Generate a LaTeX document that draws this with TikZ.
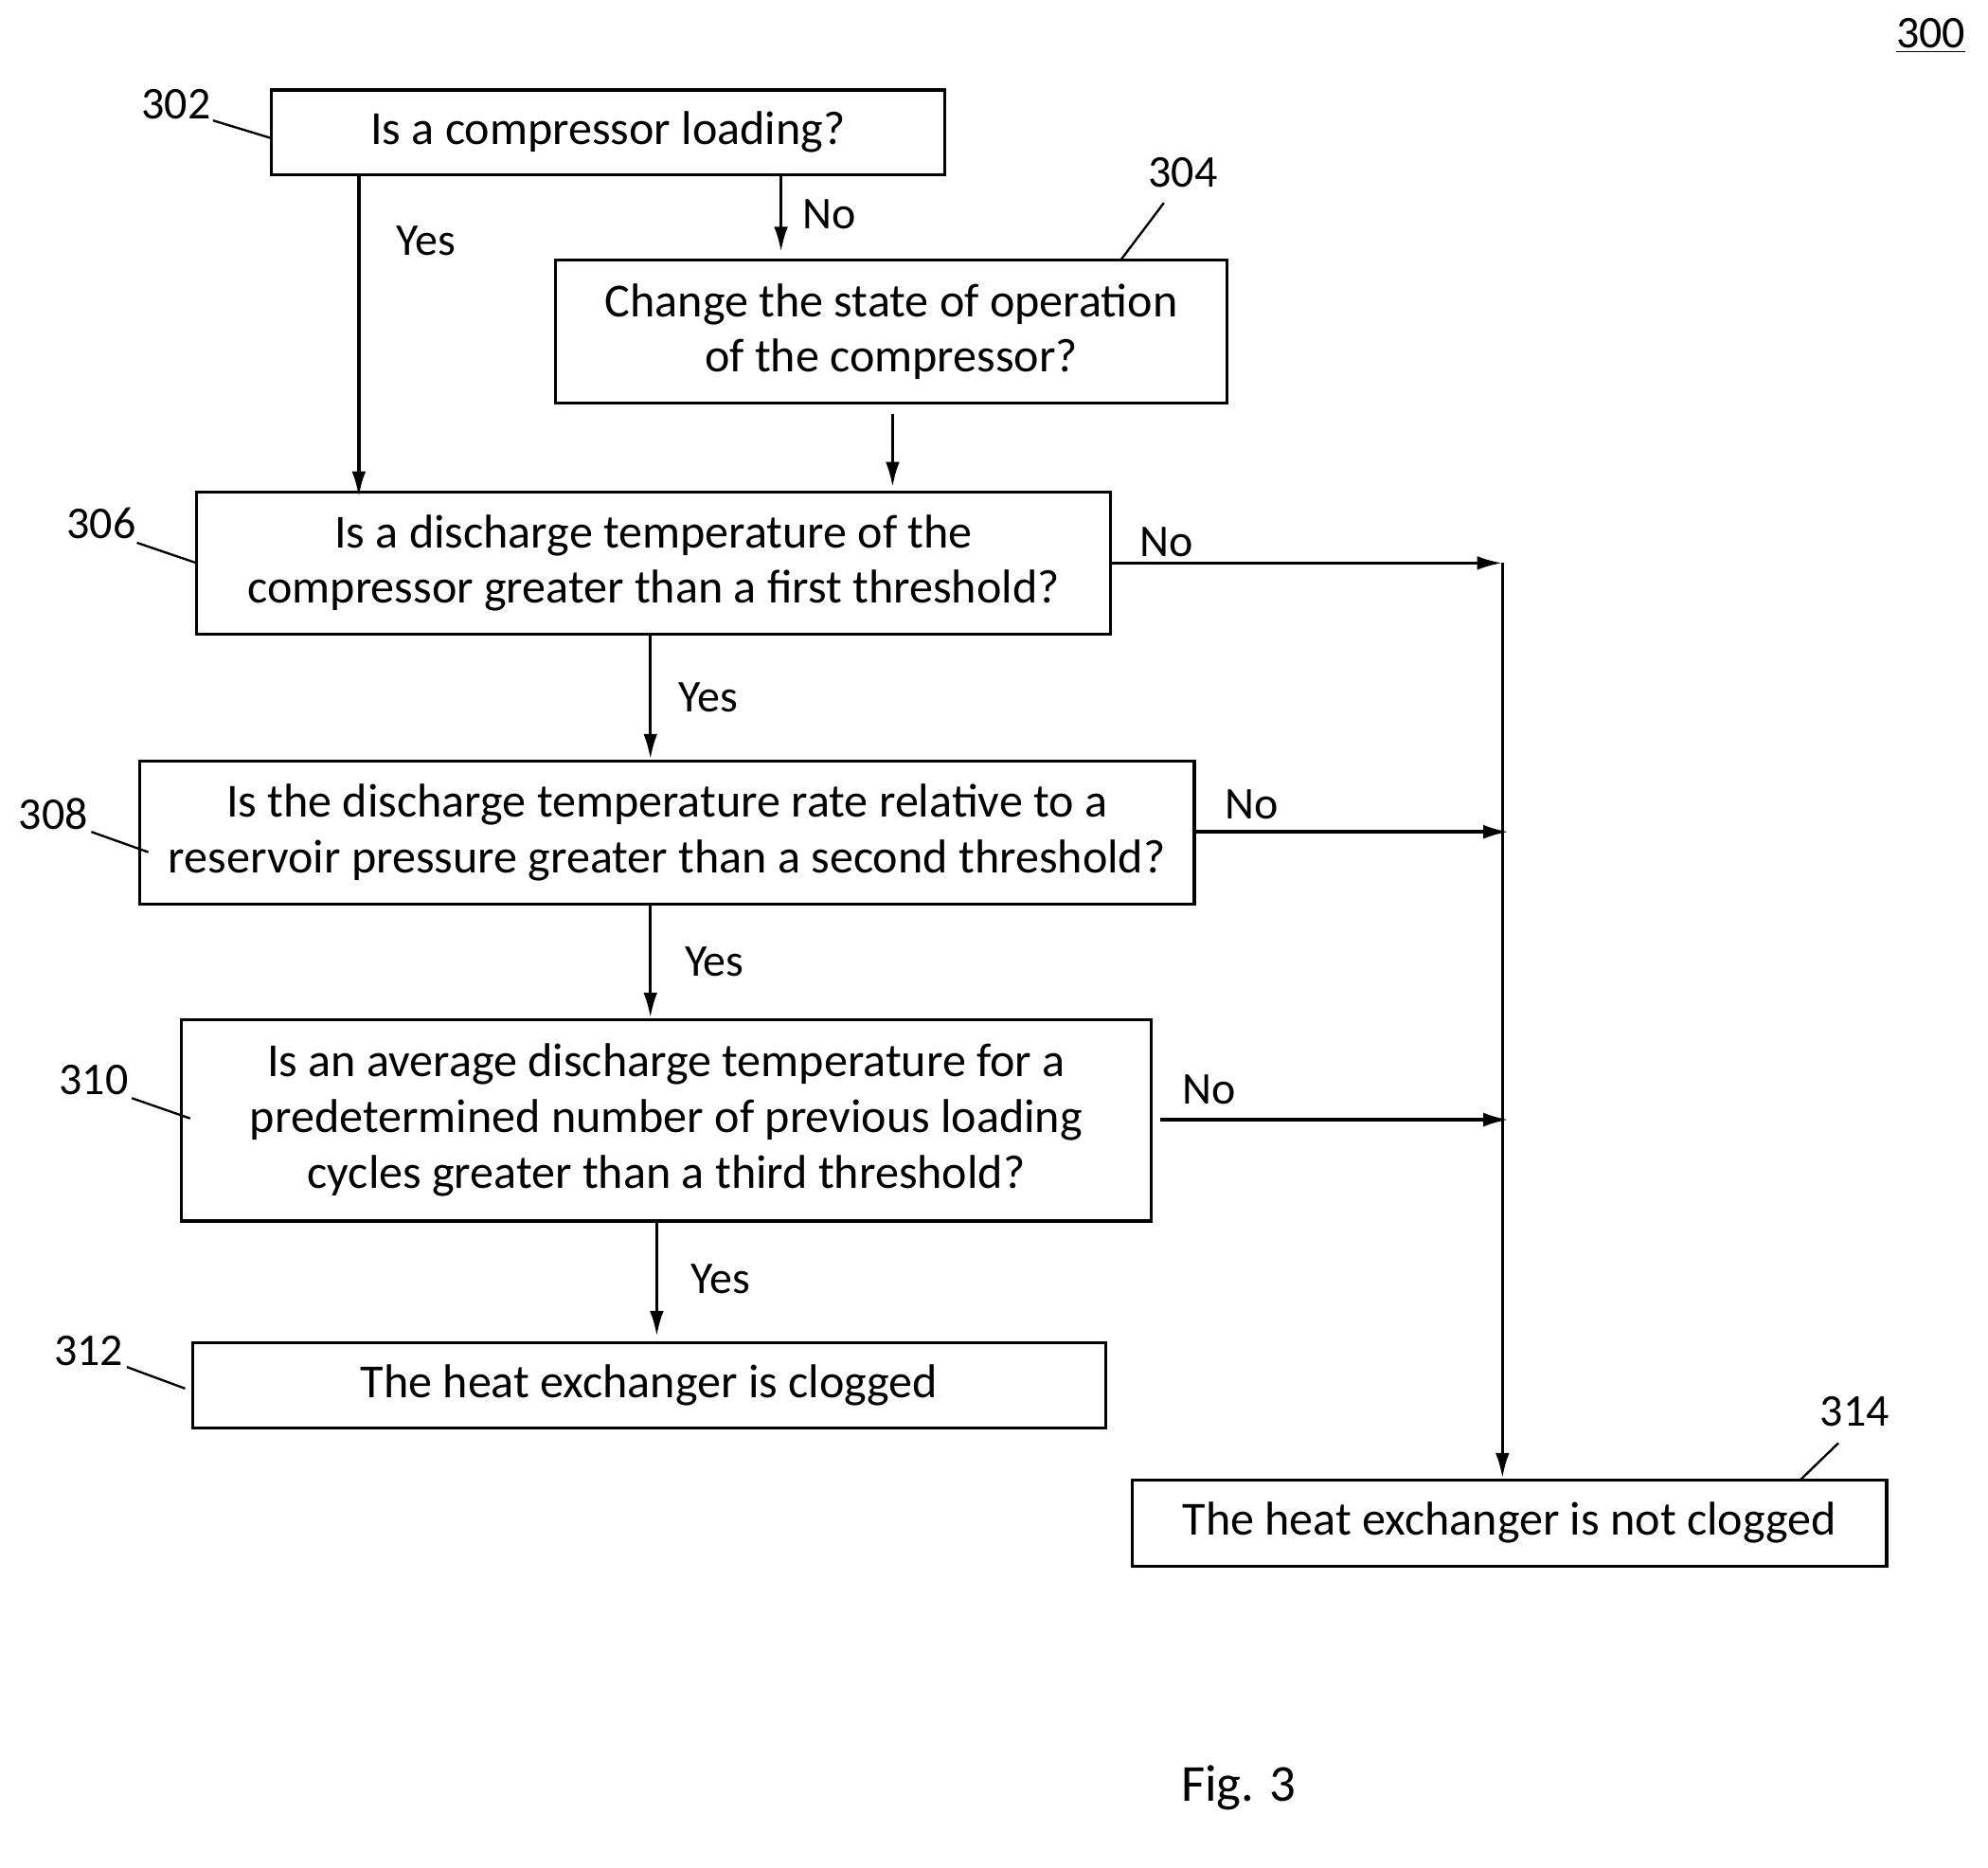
\documentclass[tikz,border=0pt]{standalone}
\usepackage{fontspec}
\setmainfont{Carlito}
\usetikzlibrary{arrows.meta}

\begin{document}
\begin{tikzpicture}[x=0.02cm, y=-0.02cm,
   box/.style={draw, line width=0.5mm, align=center, inner sep=0pt,
      font=\fontsize{21.3}{25}\selectfont},
   flow/.style={-{Latex[length=4mm,width=2.2mm]}, line width=0.5mm},
   lead/.style={line width=0.35mm},
   lbl/.style={font=\fontsize{20.4}{25}\selectfont}]
\useasboundingbox (0,0) rectangle (1568,1473);

\node[box, minimum width=10.62cm, minimum height=1.34cm] (q302) at (479.5,104.5) {Is a compressor loading?};
\node[box, minimum width=10.6cm, minimum height=2.26cm] (q304) at (703,261.5) {Change the state of operation\\of the compressor?};
\node[box, minimum width=14.42cm, minimum height=2.24cm] (q306) at (515.5,444) {Is a discharge temperature of the\\compressor greater than a first threshold?};
\node[box, minimum width=16.64cm, minimum height=2.26cm] (q308) at (526,656.5) {Is the discharge temperature rate relative to a\\reservoir pressure greater than a second threshold?};
\node[box, minimum width=15.3cm, minimum height=3.18cm] (q310) at (525.5,883.5) {Is an average discharge temperature for a\\predetermined number of previous loading\\cycles greater than a third threshold?};
\node[box, minimum width=14.4cm, minimum height=1.34cm] (q312) at (512,1092.5) {The heat exchanger is clogged};
\node[box, minimum width=11.9cm, minimum height=1.36cm] (q314) at (1190.5,1201) {The heat exchanger is not clogged};

% columns of the arrows
\coordinate (yesx) at (283,0);
\coordinate (nox) at (616,0);
\coordinate (retx) at (704,0);
\coordinate (midx) at (513,0);
\coordinate (lastx) at (518,0);
\coordinate (busTop) at (1185,444);
\coordinate (bus308) at (1190,656);
\coordinate (bus310) at (1190,883);
\coordinate (from310) at (915,883);

\draw[flow] (q302.south -| yesx) -- ([yshift=-0.1cm]q306.north -| yesx) node[lbl, pos=0.2, right=0.45cm] {Yes};
\draw[flow] (q302.south -| nox) -- ([yshift=0.1cm]q304.north -| nox) node[lbl, midway, right=0.2cm] {No};
\draw[flow] ([yshift=-0.15cm]q304.south -| retx) -- ([yshift=0.05cm]q306.north -| retx);
\draw[flow] (q306.south -| midx) -- (q308.north -| midx) node[lbl, midway, right=0.3cm] {Yes};
\draw[flow] (q308.south -| midx) -- (q310.north -| midx) node[lbl, midway, right=0.4cm] {Yes};
\draw[flow] (q310.south -| lastx) -- ([yshift=0.08cm]q312.north -| lastx) node[lbl, midway, right=0.4cm] {Yes};

\draw[flow] (q306.east) -- (busTop) node[lbl, pos=0.14, above=-0.05cm] {No};
\draw[flow] (q308.east |- bus308) -- (bus308) node[lbl, pos=0.18, above=0.05cm] {No};
\draw[flow] (from310) -- (bus310) node[lbl, pos=0.14, above=0.1cm] {No};
\draw[flow] (busTop) -- (q314.north -| busTop);

% reference numerals
\node[lbl] (n302) at (139,82) {302};
\node[lbl] (n304) at (933,136) {304};
\node[lbl] (n306) at (80,413) {306};
\node[lbl] (n308) at (42,642) {308};
\node[lbl] (n310) at (74,852) {310};
\node[lbl] (n312) at (70,1065) {312};
\node[lbl] (n314) at (1463,1113) {314};
\draw[lead] (168,95) -- (214,109);
\draw[lead] (918,160) -- (884,205);
\draw[lead] (108,428) -- (155,444);
\draw[lead] (72,656) -- (117,672);
\draw[lead] (104,866) -- (150,882);
\draw[lead] (100,1078) -- (146,1095);
\draw[lead] (1450,1138) -- (1420,1167);

\node[lbl] (n300) at (1523,28) {\underline{300}};
\node[font=\fontsize{23.3}{26}\selectfont] (fig) at (977,1410) {Fig. 3};
\end{tikzpicture}
\end{document}
